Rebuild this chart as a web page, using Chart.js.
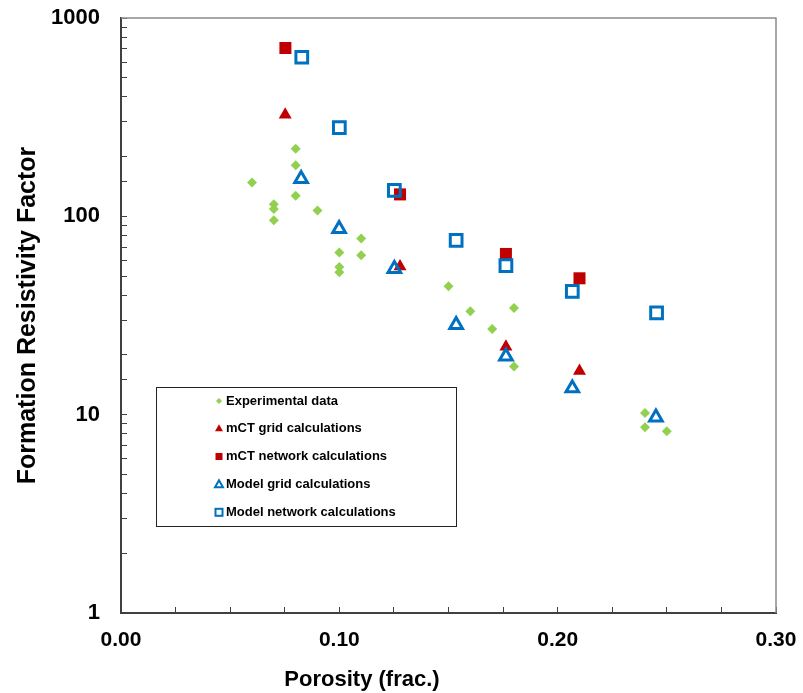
<!DOCTYPE html>
<html><head><meta charset="utf-8">
<script src="https://cdn.jsdelivr.net/npm/chart.js@4.4.1/dist/chart.umd.min.js"></script>
<style>html,body{margin:0;padding:0;background:#fff}canvas{display:block}</style>
</head><body>
<canvas id="c" width="803" height="693"></canvas>
<script>
// ---- data ----
const seriesNames = ['Experimental data','mCT grid calculations','mCT network calculations','Model grid calculations','Model network calculations'];
const expX = [0.06,0.07,0.07,0.07,0.08,0.08,0.08,0.09,0.10,0.10,0.10,0.11,0.11,0.15,0.16,0.17,0.18,0.18,0.24,0.24,0.25];
const expY = [148,115,109,95.5,219,181,127,107,65.8,55.6,52.2,77.2,63.6,44.4,33.2,27.0,34.5,17.5,10.2,8.63,8.24];
const mctGridX = [0.0752,0.1278,0.1763,0.2100];
const mctGridY = [325,55.8,22.0,16.6];
const mctNetX = [0.0753,0.1278,0.1763,0.2100];
const mctNetY = [706,129,64.6,48.7];
const modGridX = [0.0825,0.0999,0.1252,0.1535,0.1763,0.2067,0.2450];
const modGridY = [154.5,86.5,54.4,28.4,19.7,13.6,9.70];
const modNetX = [0.0828,0.1000,0.1252,0.1535,0.1763,0.2067,0.2453];
const modNetY = [634,280,135,75.7,56.4,41.9,32.6];
const xTickLabels = ['0.00','0.10','0.20','0.30'];
const yTickLabels = ['1','10','100','1000'];

const GREEN = '#92D050', RED = '#C00000', BLUE = '#0070C0';
const FONT = '"Liberation Sans", Arial, sans-serif';
const pts = (xs, ys) => xs.map((x, i) => ({x, y: ys[i]}));

const frame = {
  id: 'frame',
  beforeDatasetsDraw(chart) {
    const {ctx, chartArea: a} = chart;
    ctx.save();
    ctx.strokeStyle = '#8c8c8c';
    ctx.lineWidth = 1.5;
    ctx.beginPath();
    ctx.moveTo(a.left, a.top);
    ctx.lineTo(a.right, a.top);
    ctx.lineTo(a.right, a.bottom);
    ctx.stroke();
    ctx.restore();
  }
};

const legendBox = {
  id: 'legendBox',
  afterDraw(chart) {
    const ctx = chart.ctx;
    ctx.save();
    ctx.fillStyle = '#fff';
    ctx.fillRect(156, 387, 301, 139);
    ctx.strokeStyle = '#222';
    ctx.lineWidth = 1;
    ctx.strokeRect(156.5, 387.5, 300, 139);
    const ys = [401, 428.7, 456.5, 484.3, 512.3];
    const mx = 219;
    ctx.font = 'bold 13px ' + FONT;
    ctx.textBaseline = 'middle';
    ctx.textAlign = 'left';
    seriesNames.forEach((name, i) => {
      const y = ys[i];
      ctx.beginPath();
      if (i === 0) {
        ctx.fillStyle = GREEN;
        ctx.moveTo(mx - 3, y); ctx.lineTo(mx, y - 3); ctx.lineTo(mx + 3, y); ctx.lineTo(mx, y + 3);
        ctx.closePath(); ctx.fill();
      } else if (i === 1) {
        ctx.fillStyle = RED;
        ctx.moveTo(mx, y - 4.5); ctx.lineTo(mx + 4, y + 2.5); ctx.lineTo(mx - 4, y + 2.5);
        ctx.closePath(); ctx.fill();
      } else if (i === 2) {
        ctx.fillStyle = RED;
        ctx.fillRect(mx - 3.5, y - 3.5, 7, 7);
      } else if (i === 3) {
        ctx.strokeStyle = BLUE; ctx.lineWidth = 2;
        ctx.moveTo(mx, y - 4); ctx.lineTo(mx + 4, y + 3); ctx.lineTo(mx - 4, y + 3);
        ctx.closePath(); ctx.stroke();
      } else {
        ctx.strokeStyle = BLUE; ctx.lineWidth = 2;
        ctx.strokeRect(mx - 3.5, y - 3.5, 7, 7);
      }
      ctx.fillStyle = '#000';
      ctx.fillText(name, 226, y);
    });
    // x axis title
    ctx.font = 'bold 22px ' + FONT;
    ctx.textAlign = 'center';
    ctx.textBaseline = 'middle';
    ctx.fillStyle = '#000';
    ctx.fillText('Porosity (frac.)', 362, 680);
    ctx.restore();
  }
};

new Chart(document.getElementById('c'), {
  type: 'scatter',
  data: {
    datasets: [
      {label: seriesNames[0], data: pts(expX, expY), pointStyle: 'rectRot', radius: 5, backgroundColor: GREEN, borderColor: GREEN, borderWidth: 0, order: 5},
      {label: seriesNames[1], data: pts(mctGridX, mctGridY), pointStyle: 'triangle', radius: 7.5, backgroundColor: RED, borderColor: RED, borderWidth: 0, order: 4},
      {label: seriesNames[2], data: pts(mctNetX, mctNetY), pointStyle: 'rect', radius: 8.5, backgroundColor: RED, borderColor: RED, borderWidth: 0, order: 3},
      {label: seriesNames[3], data: pts(modGridX, modGridY), pointStyle: 'triangle', radius: 7.3, backgroundColor: 'rgba(0,0,0,0)', borderColor: BLUE, borderWidth: 3, order: 2},
      {label: seriesNames[4], data: pts(modNetX, modNetY), pointStyle: 'rect', radius: 8.3, backgroundColor: 'rgba(0,0,0,0)', borderColor: BLUE, borderWidth: 3, order: 1}
    ]
  },
  options: {
    responsive: false,
    animation: false,
    layout: {padding: {left: 0, top: 18, right: 27, bottom: 0}},
    plugins: {legend: {display: false}, tooltip: {enabled: false}},
    elements: {point: {hoverRadius: 0}},
    scales: {
      x: {
        type: 'linear', min: 0, max: 0.3,
        border: {display: true, color: '#404040', width: 2},
        grid: {drawOnChartArea: false, drawTicks: true, tickLength: -6, tickColor: '#404040', tickWidth: 1},
        ticks: {
          stepSize: 0.025, autoSkip: false, maxRotation: 0, padding: 21, color: '#000',
          font: {family: FONT, size: 21, weight: 'bold'},
          callback: (v) => {
            const k = Math.round(v * 10);
            return Math.abs(v * 10 - k) < 1e-6 ? xTickLabels[k] : '';
          }
        },
        title: {display: false},
        afterFit: (s) => { s.height = 80; s.paddingLeft = 0; s.paddingRight = 0; }
      },
      y: {
        type: 'logarithmic', min: 1, max: 1000,
        border: {display: true, color: '#404040', width: 2},
        grid: {drawOnChartArea: false, drawTicks: true, tickLength: -6, tickColor: '#404040', tickWidth: 1},
        ticks: {
          autoSkip: false, padding: 27, color: '#000',
          font: {family: FONT, size: 22, weight: 'bold'},
          callback: (v) => {
            const e = Math.log10(v);
            const k = Math.round(e);
            return Math.abs(e - k) < 1e-9 ? yTickLabels[k] : '';
          }
        },
        title: {display: true, text: 'Formation Resistivity Factor', color: '#000',
          font: {family: FONT, size: 25, weight: 'bold'}, padding: {top: 13, bottom: 0}},
        afterFit: (s) => { s.width = 121; s.paddingTop = 0; s.paddingBottom = 0; }
      }
    }
  },
  plugins: [frame, legendBox]
});
</script>
</body></html>
